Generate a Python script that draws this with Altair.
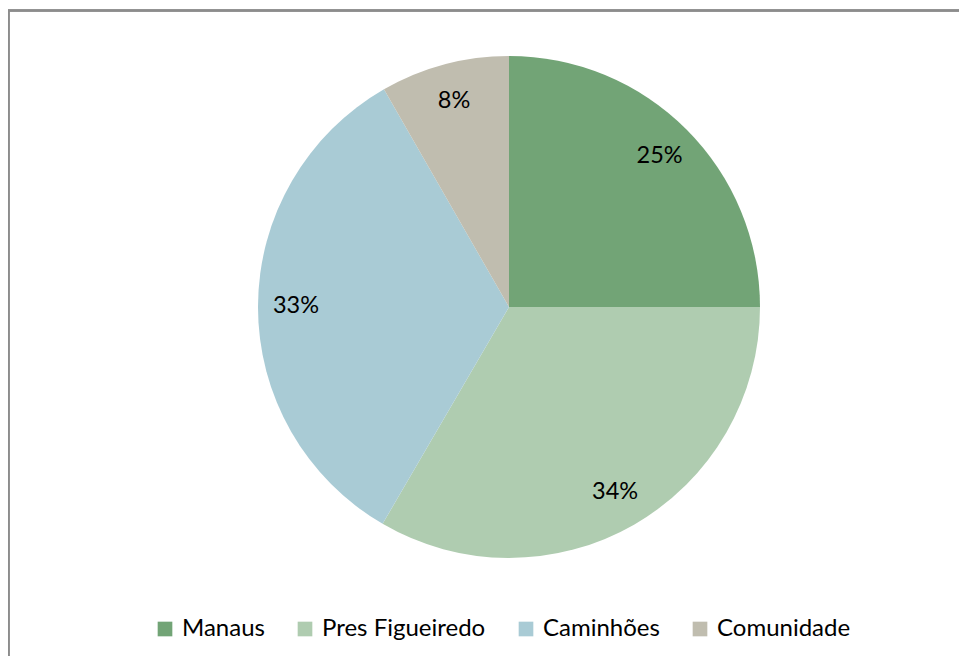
import altair as alt
import pandas as pd

categories = ["Manaus", "Pres Figueiredo", "Caminhões", "Comunidade"]
values = [25.0, 33.4, 33.3, 8.3]
labels = ["25%", "34%", "33%", "8%"]
colors = ["#72A476", "#AFCCB0", "#A9CBD5", "#C0BDAF"]

df = pd.DataFrame({
    "cat": categories,
    "val": values,
    "lab": labels,
    "idx": list(range(len(categories))),
})

FONT = "Lato"

base = alt.Chart(df).encode(
    theta=alt.Theta("val:Q", stack=True),
    order=alt.Order("idx:Q"),
)

pie = base.mark_arc(stroke=None).encode(
    x=alt.value(501),
    y=alt.value(299),
    radius=alt.value(251),
    color=alt.Color(
        "cat:N",
        sort=categories,
        scale=alt.Scale(domain=categories, range=colors),
        legend=alt.Legend(
            title=None,
            orient="none",
            direction="horizontal",
            columns=4,
            legendX=145,
            legendY=609,
            symbolType="square",
            symbolSize=215,
            symbolStrokeWidth=0,
            labelFont=FONT,
            labelFontSize=24,
            labelColor="#000000",
            labelOffset=5,
            columnPadding=28,
            labelLimit=400,
        ),
    ),
)

text = base.mark_text(font=FONT, fontSize=23.5, color="#000000").encode(
    x=alt.value(501),
    y=alt.value(299),
    radius=alt.value(213),
    text="lab:N",
)

frame_top = alt.Chart(df).mark_rule(color="#8C8C8C", strokeWidth=2).encode(
    x=alt.value(0), x2=alt.value(951), y=alt.value(2.5)
)
frame_left = alt.Chart(df).mark_rule(color="#8C8C8C", strokeWidth=2).encode(
    x=alt.value(0.5), y=alt.value(2), y2=alt.value(648)
)

chart = alt.layer(frame_top, frame_left, pie, text).properties(
    width=951,
    height=648,
    autosize=alt.AutoSizeParams(type="none"),
    padding=0,
).configure_view(stroke=None)

chart.save("out.html", embed_options={"renderer": "svg", "actions": False})
